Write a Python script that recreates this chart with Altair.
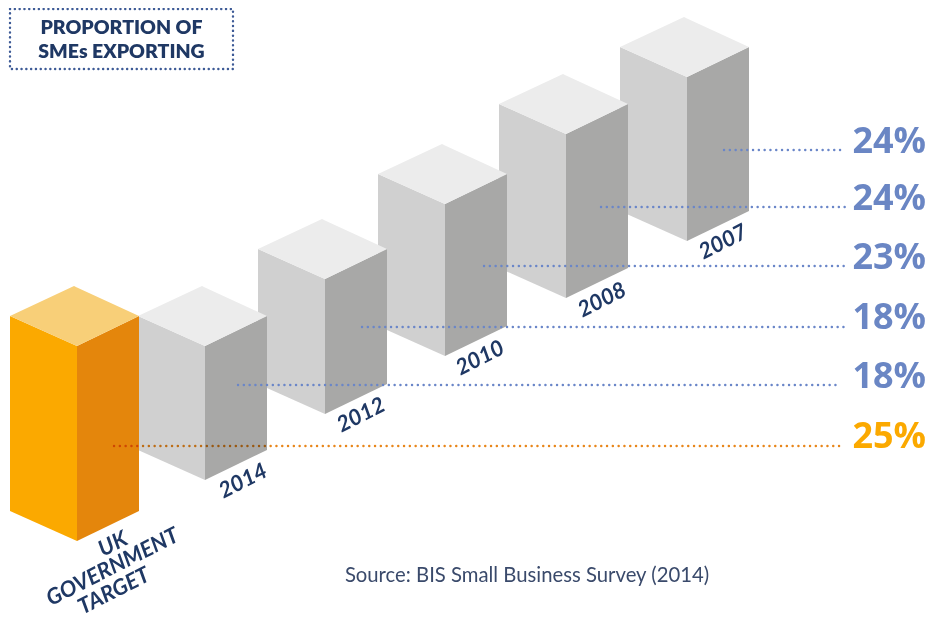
import altair as alt
import pandas as pd

# back-to-front order
labels = ["2007", "2008", "2010", "2012", "2014", "UK GOVERNMENT TARGET"]
percents = ["24%", "24%", "23%", "18%", "18%", "25%"]
left_x = [620, 499, 378, 258, 138, 10]
floor_y = [241, 298, 356, 414, 480, 541]
bar_height = [164, 164, 152, 135, 134, 195]
leader_start = [724, 601, 484, 362, 238, 114]
leader_end = [841, 848, 848, 848, 841, 841]
leader_y = [150, 207, 266, 327, 385, 446]
pct_right = [926, 926, 926, 926, 926, 926]
pct_y = [142, 199, 258, 318, 377, 437]
year_x = [723, 602, 480, 361, 243]
year_y = [242, 300, 358, 415, 481]
target_lines = ["UK", "GOVERNMENT", "TARGET"]
target_x = [113, 112.5, 114]
target_y = [544, 567, 591]
title_lines = ["PROPORTION OF", "SMEs EXPORTING"]
title_y = [28, 52]
source_text = ["Source: BIS Small Business Survey (2014)"]

GRAY = ("#D0D0D0", "#A8A8A7", "#ECECEC")
ORANGE = ("#FBA900", "#E4860C", "#F8CF78")
NAVY = "#1F3864"
BLUE = "#6A86C4"
AMBER = "#FBA900"
LEFT_W, RIGHT_W, APEX_W, RISE = 67, 62, 64, 30

W, H = 918, 609
X = alt.X("x:Q", scale=alt.Scale(domain=[8, 8 + W], nice=False, zero=False), axis=None)
Y = alt.Y("y:Q", scale=alt.Scale(domain=[8 + H, 8], nice=False, zero=False), axis=None)


def face(xs, ys, y2s, color):
    df = pd.DataFrame({"x": xs, "y": ys, "y2": y2s})
    return alt.Chart(df).mark_area(color=color, interpolate="linear", orient="vertical").encode(
        x=X, y=Y, y2=alt.Y2("y2:Q")
    )


def bar_layers(lx, fy, h, palette):
    fx = lx + LEFT_W
    rx = fx + RIGHT_W
    ax = lx + APEX_W
    ft = fy - h
    st = ft - RISE
    at = st - RISE
    layers = [
        face([lx, fx], [st, ft], [st + h, fy], palette[0]),
        face([fx, rx], [ft, st], [fy, st + h], palette[1]),
    ]
    up_at_f = at + (fx - ax) / (rx - ax) * RISE
    low_at_a = st + (ax - lx) / (fx - lx) * RISE
    layers.append(face([lx, ax, fx, rx], [st, at, up_at_f, st], [st, low_at_a, ft, st], palette[2]))
    return layers


layers = []
for i in range(len(labels)):
    layers += bar_layers(left_x[i], floor_y[i], bar_height[i], ORANGE if i == 5 else GRAY)

# dotted leaders
for i in range(len(labels)):
    df = pd.DataFrame({"x": [leader_start[i]], "x2": [leader_end[i]], "y": [leader_y[i]]})
    is_target = i == 5
    kw = {"blend": "multiply"} if is_target else {}
    layers.append(
        alt.Chart(df)
        .mark_rule(
            color="#E8861A" if is_target else "#6A86C8",
            strokeWidth=2.4,
            strokeDash=[0.1, 5.7],
            strokeCap="round",
            **kw,
        )
        .encode(x=X, x2="x2:Q", y=Y)
    )

# percentage labels
for i in range(len(labels)):
    df = pd.DataFrame({"x": [pct_right[i]], "y": [pct_y[i]], "t": [percents[i]]})
    layers.append(
        alt.Chart(df)
        .mark_text(
            font="Open Sans", fontSize=36, fontWeight=700, align="right", baseline="middle",
            color=AMBER if i == 5 else BLUE,
        )
        .encode(x=X, y=Y, text="t:N")
    )

# year labels
yrs = pd.DataFrame({"x": year_x, "y": year_y, "t": labels[:5]})
layers.append(
    alt.Chart(yrs)
    .mark_text(font="Lato", fontSize=22, fontWeight=700, fontStyle="italic", angle=333,
               align="center", baseline="middle", color=NAVY)
    .encode(x=X, y=Y, text="t:N")
)
tgt = pd.DataFrame({"x": target_x, "y": target_y, "t": target_lines})
layers.append(
    alt.Chart(tgt)
    .mark_text(font="Lato", fontSize=22, fontWeight=700, fontStyle="italic", angle=333,
               align="center", baseline="middle", color=NAVY)
    .encode(x=X, y=Y, text="t:N")
)

# title box
box = pd.DataFrame({"x": [10], "x2": [233], "y": [9], "y2": [69]})
layers.append(
    alt.Chart(box)
    .mark_rect(fillOpacity=0, stroke="#3D5A96", strokeWidth=2.4, strokeDash=[0.1, 4.7], strokeCap="round")
    .encode(x=X, x2="x2:Q", y=Y, y2="y2:Q")
)
ttl = pd.DataFrame({"x": [121.5, 121.5], "y": title_y, "t": title_lines})
layers.append(
    alt.Chart(ttl)
    .mark_text(font="Lato", fontSize=19.5, fontWeight=800, align="center", baseline="middle", color=NAVY)
    .encode(x=X, y=Y, text="t:N")
)

# source
src = pd.DataFrame({"x": [527], "y": [576], "t": source_text})
layers.append(
    alt.Chart(src)
    .mark_text(font="Lato", fontSize=20.3, align="center", baseline="middle", color="#3A4A6B")
    .encode(x=X, y=Y, text="t:N")
)

chart = (
    alt.layer(*layers)
    .properties(width=W, height=H, padding=0, autosize=alt.AutoSizeParams(type="none"))
    .configure_view(stroke=None)
)
chart.save("out.html", embed_options={"renderer": "svg", "actions": False})
